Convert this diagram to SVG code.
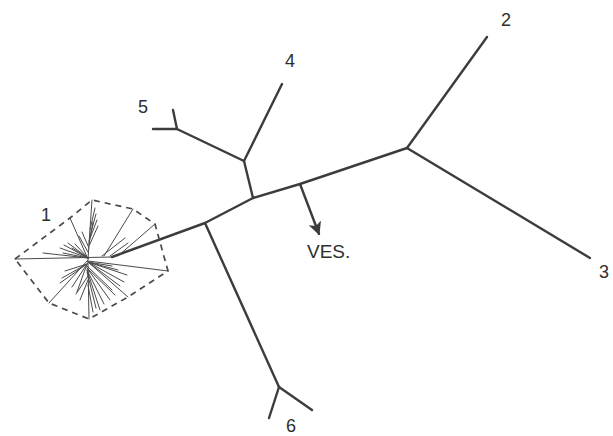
<svg xmlns="http://www.w3.org/2000/svg" width="613" height="436" viewBox="0 0 613 436">
<defs>
<style>
.br{fill:none;stroke:#3c3c3c;stroke-width:2.4;stroke-linecap:round;stroke-linejoin:round}
.tw{fill:none;stroke:#4a4a4a;stroke-width:1;stroke-linecap:round}
.hull{fill:none;stroke:#4a4a4a;stroke-width:1.7;stroke-dasharray:6 5}
.lb{font-family:"Liberation Sans",Arial,sans-serif;font-size:18px;fill:#2e2e2e}
</style>
<marker id="ah" viewBox="0 0 10 10" refX="9" refY="5" markerWidth="5.5" markerHeight="5.5" orient="auto" markerUnits="strokeWidth">
<path d="M0,0 L10,5 L0,10 L2.5,5 Z" fill="#3c3c3c"/>
</marker>
</defs>
<rect width="613" height="436" fill="#ffffff"/>

<g id="connectors">
<polyline class="br" points="112,257 205,223 253,198 300,184 407,148"/>
<polyline class="br" points="205,223 279,387"/>
<polyline class="br" points="279,387 269,418"/>
<polyline class="br" points="279,387 312,410"/>
<polyline class="br" points="253,198 244,161 282,84"/>
<polyline class="br" points="244,161 177,129 153,129"/>
<polyline class="br" points="177,129 173,110"/>
<polyline class="br" points="407,148 487,37"/>
<polyline class="br" points="407,148 590,258"/>
<line class="br" x1="300" y1="184" x2="319" y2="234" marker-end="url(#ah)"/>
</g>

<g id="node1">
<polygon class="hull" points="15,259 70,218 92,200 133,209 155,224 168,271 128,297 89,319 49,303"/>
<g class="tw">
<line x1="15" y1="259" x2="112" y2="257"/>
<line x1="88" y1="259" x2="92" y2="200"/>
<line x1="88" y1="259" x2="70" y2="218"/>
<line x1="88" y1="260" x2="49" y2="303"/>
<line x1="88" y1="261" x2="168" y2="271"/>
<line x1="88" y1="262" x2="128" y2="297"/>
<line x1="88" y1="263" x2="89" y2="319"/>
<line x1="104" y1="256" x2="133" y2="209"/>
<line x1="118" y1="256" x2="155" y2="224"/>
<line x1="102" y1="256" x2="125" y2="238"/>
<line x1="110" y1="256" x2="128" y2="243"/>
<line x1="89" y1="246" x2="98" y2="226"/>
<line x1="89" y1="241" x2="97" y2="220"/>
<line x1="90" y1="236" x2="96" y2="214"/>
<line x1="90" y1="230" x2="95" y2="208"/>
<line x1="89" y1="244" x2="93" y2="222"/>
<line x1="88" y1="252" x2="79" y2="236"/>
<line x1="89" y1="248" x2="82" y2="232"/>
<line x1="88" y1="258" x2="43" y2="253"/>
<line x1="88" y1="258" x2="60" y2="248"/>
<line x1="88" y1="258" x2="64" y2="245"/>
<line x1="88" y1="258" x2="68" y2="243"/>
<line x1="88" y1="258" x2="72" y2="248"/>
<line x1="88" y1="258" x2="63" y2="253"/>
<line x1="88" y1="258" x2="75" y2="244"/>
<line x1="88" y1="262" x2="127" y2="275"/>
<line x1="88" y1="262" x2="124" y2="282"/>
<line x1="88" y1="262" x2="118" y2="270"/>
<line x1="88" y1="262" x2="112" y2="266"/>
<line x1="88" y1="262" x2="120" y2="286"/>
<line x1="87" y1="264" x2="62" y2="278"/>
<line x1="87" y1="264" x2="65" y2="271"/>
<line x1="87" y1="264" x2="72" y2="287"/>
<line x1="87" y1="264" x2="77" y2="292"/>
<line x1="87" y1="264" x2="60" y2="283"/>
<line x1="87" y1="270" x2="100" y2="310"/>
<line x1="87" y1="272" x2="96" y2="308"/>
<line x1="87" y1="270" x2="104" y2="304"/>
<line x1="87" y1="268" x2="110" y2="300"/>
<line x1="87" y1="268" x2="115" y2="295"/>
<line x1="87" y1="266" x2="112" y2="290"/>
<line x1="88" y1="280" x2="80" y2="300"/>
<line x1="88" y1="276" x2="76" y2="294"/>
<line x1="88" y1="285" x2="93" y2="312"/>
</g>
<text class="lb" x="46" y="221" text-anchor="middle">1</text>
</g>

<g id="node2"><text class="lb" x="506" y="26" text-anchor="middle">2</text></g>
<g id="node3"><text class="lb" x="604" y="278" text-anchor="middle">3</text></g>
<g id="node4"><text class="lb" x="290" y="67" text-anchor="middle">4</text></g>
<g id="node5"><text class="lb" x="143" y="113" text-anchor="middle">5</text></g>
<g id="node6"><text class="lb" x="291" y="432" text-anchor="middle">6</text></g>
<g id="ves"><text class="lb" x="307" y="258" style="font-size:19px">VES.</text></g>
</svg>
